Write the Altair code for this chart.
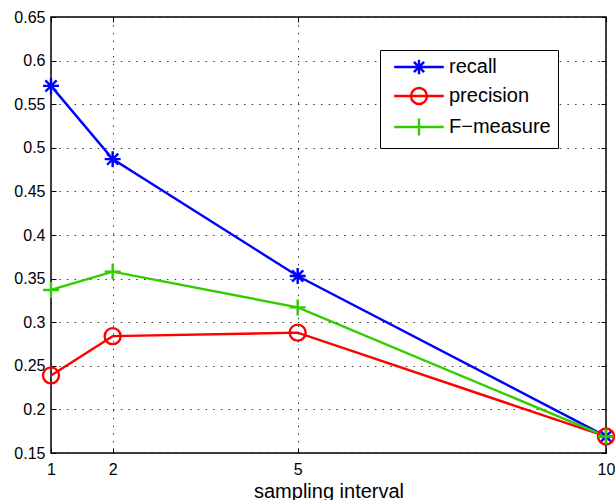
import altair as alt
import pandas as pd

# Sampling intervals and the three scores measured at each one
intervals = [1, 2, 5, 10]
recall = [0.571, 0.487, 0.353, 0.169]
precision = [0.239, 0.284, 0.288, 0.169]
f_measure = [0.337, 0.358, 0.317, 0.169]

series_names = ["recall", "precision", "F\u2212measure"]
series_colors = ["#0000FF", "#FF0000", "#33CC00"]

x_ticks = [1, 2, 5, 10]
y_ticks = [0.15, 0.2, 0.25, 0.3, 0.35, 0.4, 0.45, 0.5, 0.55, 0.6, 0.65]

FONT = "Liberation Sans"

rows = []
for name, values in zip(series_names, [recall, precision, f_measure]):
    for x, v in zip(intervals, values):
        rows.append({"interval": x, "score": v, "series": name})
df = pd.DataFrame(rows)

# MATLAB-like markers: asterisk, hollow circle, plus
marker_shapes = [
    "M-1,0L1,0M0,-1L0,1M-0.7,-0.7L0.7,0.7M-0.7,0.7L0.7,-0.7",
    "M-1,0A1,1,0,1,1,1,0A1,1,0,1,1,-1,0",
    "M-1,0L1,0M0,-1L0,1",
]
# Legend symbols: a line segment with the marker in the middle
legend_shapes = [
    "M-3.1,0L3.1,0M-0.9,0L0.9,0M0,-0.9L0,0.9M-0.64,-0.64L0.64,0.64M-0.64,0.64L0.64,-0.64",
    "M-3.1,0L3.1,0M-1,0A1,1,0,1,1,1,0A1,1,0,1,1,-1,0",
    "M-3.1,0L3.1,0M0,-1.05L0,1.05",
]

x_scale = alt.Scale(domain=[1, 10], nice=False, zero=False)
y_scale = alt.Scale(domain=[0.15, 0.65], nice=False, zero=False)
color_scale = alt.Scale(domain=series_names, range=series_colors)

tick_only = dict(labels=False, domain=False, grid=False, title=None, tickSize=5,
                 tickColor="black", tickWidth=1, offset=-5)

base = alt.Chart(df)

lines = base.mark_line(strokeWidth=2.4).encode(
    x=alt.X("interval:Q", scale=x_scale,
            axis=alt.Axis(orient="bottom", values=x_ticks, title="sampling interval",
                          grid=True, ticks=False, domain=False, labelPadding=8,
                          labelFlush=False, labelOverlap=False, format="d")),
    y=alt.Y("score:Q", scale=y_scale,
            axis=alt.Axis(orient="left", values=y_ticks, title=None, grid=True,
                          ticks=False, domain=False, labelPadding=6,
                          labelFlush=False, labelOverlap=False, format=".2~f")),
    color=alt.Color("series:N", scale=color_scale, legend=None),
    detail="series:N",
)

points = base.mark_point(filled=False, strokeWidth=2.4, size=256, opacity=1).encode(
    x=alt.X("interval:Q", scale=x_scale,
            axis=alt.Axis(orient="bottom", values=x_ticks, **tick_only)),
    y=alt.Y("score:Q", scale=y_scale,
            axis=alt.Axis(orient="left", values=y_ticks, **tick_only)),
    color=alt.Color("series:N", scale=color_scale, legend=None),
    shape=alt.Shape("series:N", scale=alt.Scale(domain=series_names, range=marker_shapes),
                    legend=None),
)

legend_layer = base.transform_filter("datum.interval < 0").mark_point(
    filled=False, strokeWidth=2.4, opacity=1
).encode(
    x=alt.X("interval:Q", scale=x_scale,
            axis=alt.Axis(orient="top", values=x_ticks, **tick_only)),
    y=alt.Y("score:Q", scale=y_scale,
            axis=alt.Axis(orient="right", values=y_ticks, **tick_only)),
    color=alt.Color("series:N", scale=color_scale,
                    legend=alt.Legend(
                        title=None, orient="none", legendX=329, legendY=33,
                        direction="vertical", symbolSize=256, symbolStrokeWidth=2.4,
                        symbolOffset=22, labelOffset=20, padding=7, rowPadding=4,
                        strokeColor="black", fillColor="white",
                        labelFont=FONT, labelFontSize=20, labelColor="black",
                    )),
    shape=alt.Shape("series:N", scale=alt.Scale(domain=series_names, range=legend_shapes)),
)

chart = alt.layer(lines, points, legend_layer).resolve_scale(
    color="independent", shape="independent"
).resolve_axis(
    x="independent", y="independent"
).properties(
    width=555, height=436,
    autosize=alt.AutoSizeParams(type="none"),
    padding={"left": 51, "top": 17, "right": 9, "bottom": 47},
    background="white",
).configure_view(
    stroke="black", strokeWidth=1.5
).configure_axis(
    labelFont=FONT, labelFontSize=16, labelColor="black",
    titleFont=FONT, titleFontSize=20, titleFontWeight="normal", titleColor="black",
    titlePadding=4,
    gridColor="#222222", gridDash=[1.5, 6.2], gridWidth=1, gridOpacity=0.9,
)

chart.save("out.html", embed_options={"renderer": "svg", "actions": False})
